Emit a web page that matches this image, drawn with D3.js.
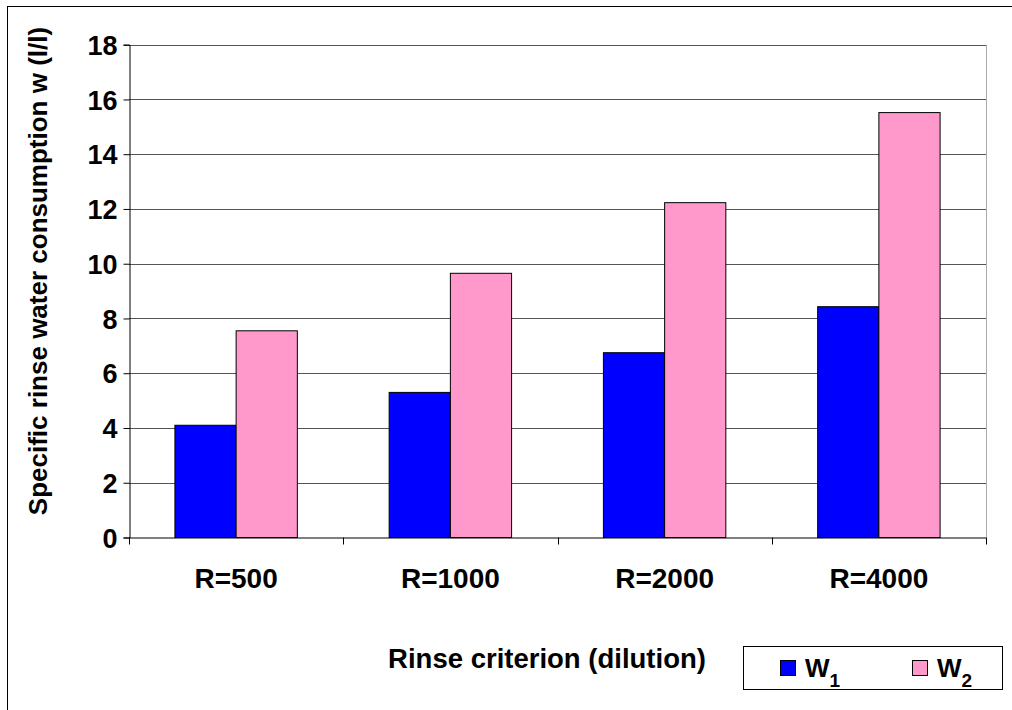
<!DOCTYPE html>
<html>
<head>
<meta charset="utf-8">
<script src="https://cdn.jsdelivr.net/npm/d3@7"></script>
<style>
  html, body { margin: 0; padding: 0; background: #fff; }
  svg { display: block; }
  text { font-family: "Liberation Sans", Arial, sans-serif; font-weight: bold; fill: #000; }
</style>
</head>
<body>
<svg id="chart" width="1012" height="710"></svg>
<script>
// Rinse criteria (dilution) on the x axis
const categories = ["R=500", "R=1000", "R=2000", "R=4000"];
// Specific rinse water consumption (l/l)
const seriesNames = ["W1", "W2"];
const w1Values = [4.1, 5.3, 6.75, 8.43];
const w2Values = [7.55, 9.65, 12.23, 15.52];
const yTicks = [0, 2, 4, 6, 8, 10, 12, 14, 16, 18];

const colors = { W1: "#0000FF", W2: "#FF99CC" };

const svg = d3.select("#chart");
const plot = { left: 129, right: 986, top: 44.7, bottom: 537.5 };

// Chart frame (only the top and left edges fall inside the canvas)
svg.append("rect")
  .attr("x", 7.5).attr("y", 6.5)
  .attr("width", 1030).attr("height", 730)
  .attr("fill", "none").attr("stroke", "#000").attr("stroke-width", 1);

const x0 = d3.scaleBand().domain(categories).range([plot.left, plot.right]).padding(0);
const x1 = d3.scaleBand().domain(seriesNames).range([0, x0.bandwidth()])
  .paddingInner(0).paddingOuter(0.75);
const y = d3.scaleLinear().domain([0, 18]).range([plot.bottom, plot.top]);

// Horizontal gridlines
svg.append("g")
  .selectAll("line")
  .data(yTicks.filter(d => d > 0))
  .join("line")
  .attr("x1", plot.left).attr("x2", plot.right)
  .attr("y1", d => Math.round(y(d)) + 0.5).attr("y2", d => Math.round(y(d)) + 0.5)
  .attr("stroke", "#555").attr("stroke-width", 1);

// Right edge of plot area
svg.append("line")
  .attr("x1", plot.right + 0.5).attr("x2", plot.right + 0.5)
  .attr("y1", plot.top).attr("y2", plot.bottom)
  .attr("stroke", "#aaa").attr("stroke-width", 1);

// Bars
const rows = categories.map((c, i) => ({ cat: c, W1: w1Values[i], W2: w2Values[i] }));
const groups = svg.append("g")
  .selectAll("g")
  .data(rows)
  .join("g")
  .attr("transform", d => `translate(${x0(d.cat)},0)`);

groups.selectAll("rect")
  .data(d => seriesNames.map(s => ({ key: s, value: d[s] })))
  .join("rect")
  .attr("x", d => x1(d.key))
  .attr("y", d => y(d.value))
  .attr("width", x1.bandwidth())
  .attr("height", d => y(0) - y(d.value))
  .attr("fill", d => colors[d.key])
  .attr("stroke", "#000").attr("stroke-width", 1);

// Y axis
const yAxis = d3.axisLeft(y).tickValues(yTicks).tickSize(6).tickPadding(6).tickFormat(d3.format("d"));
const gy = svg.append("g")
  .attr("transform", `translate(${plot.left + 0.5},0)`)
  .call(yAxis);
gy.select(".domain").attr("stroke", "#000");
gy.selectAll(".tick line").attr("stroke", "#000");
gy.selectAll(".tick text")
  .attr("font-size", 27).attr("font-family", "Liberation Sans, Arial, sans-serif")
  .attr("font-weight", "bold").attr("fill", "#000")
  .attr("dy", "0.36em");

// X axis: ticks at category boundaries
const xAxisG = svg.append("g");
xAxisG.append("line")
  .attr("x1", plot.left).attr("x2", plot.right)
  .attr("y1", plot.bottom + 0.5).attr("y2", plot.bottom + 0.5)
  .attr("stroke", "#000");
const boundaries = categories.map(c => x0(c)).concat([x0(categories[categories.length - 1]) + x0.bandwidth()]);
xAxisG.selectAll("line.tick")
  .data(boundaries)
  .join("line")
  .attr("class", "tick")
  .attr("x1", d => Math.round(d) + 0.5).attr("x2", d => Math.round(d) + 0.5)
  .attr("y1", plot.bottom).attr("y2", plot.bottom + 7)
  .attr("stroke", "#000");
xAxisG.selectAll("text")
  .data(categories)
  .join("text")
  .attr("x", d => x0(d) + x0.bandwidth() / 2)
  .attr("y", 588)
  .attr("text-anchor", "middle")
  .attr("font-size", 28)
  .text(d => d);

// Axis titles
svg.append("text")
  .attr("x", 547).attr("y", 668)
  .attr("text-anchor", "middle")
  .attr("font-size", 27.5)
  .text("Rinse criterion (dilution)");

svg.append("text")
  .attr("transform", "translate(47,271) rotate(-90)")
  .attr("text-anchor", "middle")
  .attr("font-size", 26)
  .text("Specific rinse water consumption w (l/l)");

// Legend
const legend = svg.append("g");
legend.append("rect")
  .attr("x", 743.5).attr("y", 646.5).attr("width", 259).attr("height", 43)
  .attr("fill", "#fff").attr("stroke", "#000");
const legendX = [780, 912];
seriesNames.forEach((s, i) => {
  legend.append("rect")
    .attr("x", legendX[i] + 0.5).attr("y", 660.5).attr("width", 15).attr("height", 15)
    .attr("fill", colors[s]).attr("stroke", "#000");
  const t = legend.append("text")
    .attr("x", legendX[i] + 25).attr("y", 677)
    .attr("font-size", 26);
  t.append("tspan").text("W");
  t.append("tspan").attr("font-size", 19).attr("dy", 10).text(s.slice(1));
});
</script>
</body>
</html>
